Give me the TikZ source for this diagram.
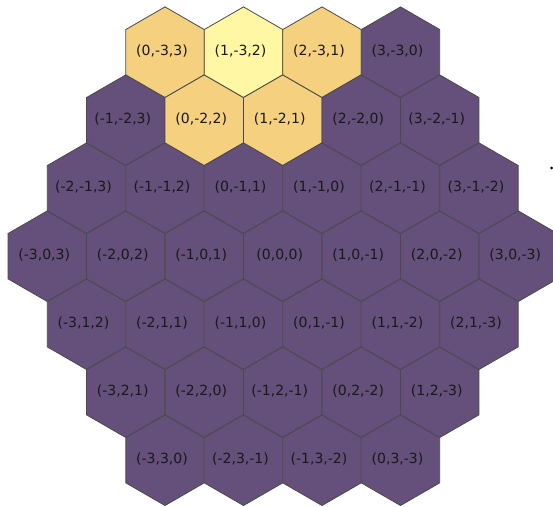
\documentclass[tikz,border=0pt]{standalone}
\usepackage{fontspec}
\setmainfont{DejaVu Sans}
\definecolor{hexpurple}{HTML}{654F7B}
\definecolor{hexyellow}{HTML}{FFF7A3}
\definecolor{hexorange}{HTML}{F5D17F}
\definecolor{hexedge}{HTML}{4A4A4A}
\begin{document}
\begin{tikzpicture}[x=1pt,y=-1pt,
  hexlabel/.style={font=\fontsize{14}{16}\selectfont, text=black!90, inner sep=0pt},
  hexcell/.style={draw=hexedge, line width=0.8pt, line join=miter},
  stray/.style={circle, fill=black, inner sep=0pt, minimum size=3pt}]
\useasboundingbox (0,0) rectangle (553,506);
\foreach \q in {-3,...,3}{
  \foreach \r in {-3,...,3}{
    \pgfmathtruncatemacro\s{-\q-\r}
    \ifnum\s<-3 \else\ifnum\s>3 \else
      \pgfmathsetmacro\cx{282.75+78.5*(\q+\r/2)}
      \pgfmathsetmacro\cy{256.2+68*\r}
      \pgfmathtruncatemacro\id{(\q+3)*7+(\r+3)}
      \def\hexfill{hexpurple}
      \ifnum\r=-3 \ifnum\q<3 \def\hexfill{hexorange}\fi\fi
      \ifnum\r=-2 \ifnum\q>-1 \ifnum\q<2 \def\hexfill{hexorange}\fi\fi\fi
      \ifnum\r=-3 \ifnum\q=1 \def\hexfill{hexyellow}\fi\fi
      \path[hexcell, fill=\hexfill] (\cx,\cy) +(30:45.3) -- +(90:45.3) -- +(150:45.3) -- +(210:45.3) -- +(270:45.3) -- +(330:45.3) -- cycle;
      \node[hexlabel] (h\id) at (\cx-3,\cy-1) {(\q,\r,\s)};
    \fi\fi
  }
}
\node[stray] (dot) at (551.5,168) {};
\end{tikzpicture}
\end{document}
